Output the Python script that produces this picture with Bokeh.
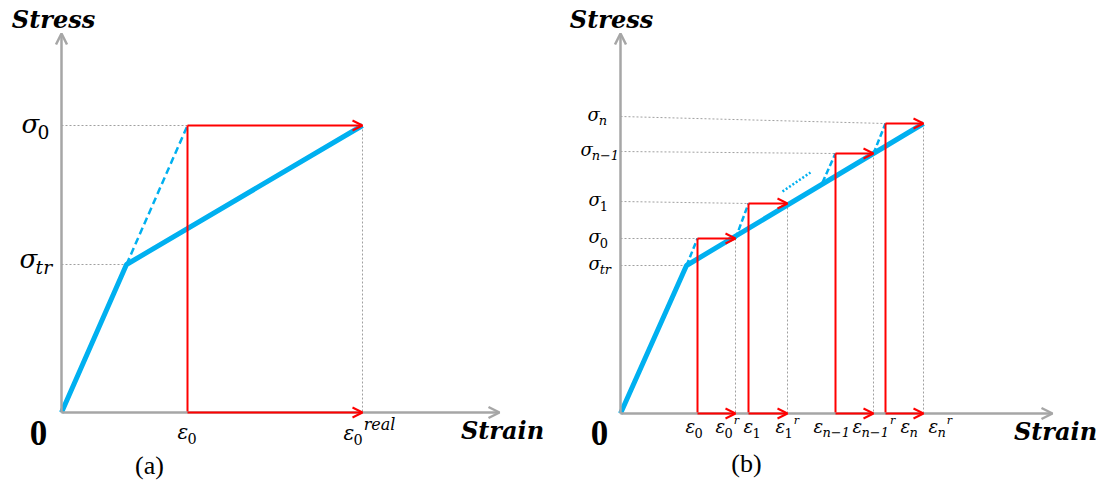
from bokeh.plotting import figure
from bokeh.layouts import row
from bokeh.models import Range1d, Arrow, OpenHead, Label
from bokeh.core.properties import value
from bokeh.embed import file_html
from bokeh.resources import INLINE

BLUE = "#00B0F0"
RED = "#FF0000"
GRAY = "#A6A6A6"
DOT = "#A0A0A0"
MATH = "DejaVu Serif"
BOLDF = "Liberation Serif"

# ---------------- panel (a) data (strain, stress; arbitrary units) -------------
a_axis_end = [4.38, 3.79]          # x-axis end (strain), y-axis end (stress)
a_eps_tr, a_sig_tr = 0.65, 1.48    # transition point
a_eps0, a_sig0 = 1.26, 2.87        # applied strain / stress
a_eps_real = 3.01                  # real strain

# ---------------- panel (b) data ---------------------------------------------
b_axis_end = [4.32, 3.80]
b_eps_tr, b_sig_tr = 0.66, 1.48
b_eps = [0.77, 1.28, 2.15, 2.65]       # eps_0, eps_1, eps_n-1, eps_n
b_eps_r = [1.15, 1.67, 2.53, 3.03]     # eps_0^r ... eps_n^r
b_sig = [1.75, 2.10, 2.60, 2.90]       # sigma_0, sigma_1, sigma_n-1, sigma_n
b_unload_x = [0.66, 1.15, 2.02, 2.53]  # start of dashed reloading segments
b_unload_y = [1.48, 1.75, 2.31, 2.60]
b_gap_x = [1.62, 1.90]                 # dotted "..." segment
b_gap_y = [2.22, 2.41]
b_sig_tick = [1.48, 1.75, 2.12, 2.62, 2.97]   # where sigma labels meet the axis

W = {'σ': 0.62, 'ε': 0.50, '0': 0.64, '1': 0.64, 'n': 0.64, '−': 0.84,
     't': 0.40, 'r': 0.49, 'e': 0.59, 'a': 0.60, 'l': 0.32}

SHIFT = 0.37   # compensation of the baseline placement, in em


def tw(s, size):
    return sum(W.get(c, 0.6) for c in s) * size


def make_fig(xr, yr):
    p = figure(width=555, height=480, x_range=Range1d(*xr), y_range=Range1d(*yr),
               output_backend="svg", toolbar_location=None,
               x_axis_location=None, y_axis_location=None, min_border=0)
    p.xgrid.visible = False
    p.ygrid.visible = False
    p.outline_line_color = None
    return p


def arrow(p, x0, y0, x1, y1, color, width, size):
    p.add_layout(Arrow(end=OpenHead(line_color=color, line_width=width, size=size),
                       x_start=x0, y_start=y0, x_end=x1, y_end=y1,
                       line_color=color, line_width=width))


def txt(p, x, y, s, size, dx=0, dy=0, font=MATH, style="italic", align="left"):
    p.text(x=[x], y=[y], text=[s], x_offset=dx, y_offset=dy - SHIFT * size,
           text_font=value(font), text_font_style=style,
           text_font_size=f"{size}px", text_baseline="alphabetic",
           text_align=align, text_color="black")


def math_label(p, x, y, base, sub="", sup="", size=20, dx=0, dy=0, sup_scale=0.62):
    txt(p, x, y, base, size, dx, dy)
    cx = dx + tw(base, size)
    if sub:
        ss = size * 0.72
        style = "normal" if sub.isdigit() else "italic"
        txt(p, x, y, sub, ss, cx, dy + 0.22 * size, style=style)
        cx += tw(sub, ss)
    if sup:
        us = size * sup_scale
        txt(p, x, y, sup, us, cx + 1, dy - 0.5 * size)


def axes(p, end):
    arrow(p, 0, 0, end[0], 0, GRAY, 2.5, 11)
    arrow(p, 0, 0, 0, end[1], GRAY, 2.5, 11)


# ============================ panel (a) =======================================
pa = make_fig((-0.61, 4.94), (-0.68, 4.12))
axes(pa, a_axis_end)
# dotted guides
pa.segment(x0=[0, 0, a_eps_real], y0=[a_sig0, a_sig_tr, a_sig0],
           x1=[a_eps0, a_eps_tr, a_eps_real], y1=[a_sig0, a_sig_tr, 0],
           line_color=DOT, line_width=1, line_dash="2 2")
# blue curve
pa.line([0, a_eps_tr, a_eps_real], [0, a_sig_tr, a_sig0], line_color=BLUE, line_width=5)
pa.segment(x0=[a_eps_tr], y0=[a_sig_tr], x1=[a_eps0], y1=[a_sig0],
           line_color=BLUE, line_width=2.5, line_dash="7 4")
# red path
pa.segment(x0=[a_eps0], y0=[0], x1=[a_eps0], y1=[a_sig0], line_color=RED, line_width=2)
arrow(pa, a_eps0, a_sig0, a_eps_real, a_sig0, RED, 2, 10)
arrow(pa, a_eps0, 0, a_eps_real, 0, RED, 2, 10)
# labels
math_label(pa, 0, a_sig0, "σ", "0", size=26, dx=-40, dy=8)
math_label(pa, 0, a_sig_tr, "σ", "tr", size=26, dx=-42, dy=4)
math_label(pa, a_eps0, 0, "ε", "0", size=20, dx=-10, dy=27)
math_label(pa, a_eps_real, 0, "ε", "0", "real", size=20, dx=-19, dy=28, sup_scale=0.8)
txt(pa, 0, 0, "0", 35, dx=-23, dy=33, font=BOLDF, style="bold", align="center")
txt(pa, 0, a_axis_end[1], "Stress", 24, dx=-8, dy=-5, style="bold italic", align="center")
txt(pa, a_axis_end[0], 0, "Strain", 24, dx=3, dy=27, style="bold italic", align="center")
pa.add_layout(Label(x=149, y=15, x_units="screen", y_units="screen", text="(a)",
                    text_font=BOLDF, text_font_size="26px", text_align="center",
                    text_baseline="alphabetic", text_color="black"))

# ============================ panel (b) =======================================
pb = make_fig((-0.65, 4.90), (-0.67, 4.13))
axes(pb, b_axis_end)
# dotted guides: horizontal (from axis tick to step start) and vertical
hx1 = [b_eps_tr] + b_eps
hy1 = [b_sig_tr] + b_sig
pb.segment(x0=[0] * 5, y0=b_sig_tick, x1=hx1, y1=hy1,
           line_color=DOT, line_width=1, line_dash="2 2")
pb.segment(x0=b_eps_r, y0=b_sig, x1=b_eps_r, y1=[0] * 4,
           line_color=DOT, line_width=1, line_dash="2 2")
# blue curve
pb.line([0, b_eps_tr, b_eps_r[-1]], [0, b_sig_tr, b_sig[-1]], line_color=BLUE, line_width=5)
pb.segment(x0=b_unload_x, y0=b_unload_y, x1=b_eps, y1=b_sig,
           line_color=BLUE, line_width=2.5, line_dash="6 3")
pb.line(b_gap_x, b_gap_y, line_color=BLUE, line_width=2.5, line_dash="2 2")
# red steps
pb.segment(x0=b_eps, y0=[0] * 4, x1=b_eps, y1=b_sig, line_color=RED, line_width=2)
for e0, e1, s in zip(b_eps, b_eps_r, b_sig):
    arrow(pb, e0, s, e1, s, RED, 2, 10)
    arrow(pb, e0, 0, e1, 0, RED, 2, 10)
# sigma labels
sig_subs = ["tr", "0", "1", "n−1", "n"]
sig_dx = [-32, -32, -32, -40, -33]
for yv, sub, dx in zip(b_sig_tick, sig_subs, sig_dx):
    math_label(pb, 0, yv, "σ", sub, size=18, dx=dx, dy=5)
# epsilon labels
eps_x = [b_eps[0], b_eps_r[0], b_eps[1], b_eps_r[1], b_eps[2], b_eps_r[2], b_eps[3], b_eps_r[3]]
eps_sub = ["0", "0", "1", "1", "n−1", "n−1", "n", "n"]
eps_sup = ["", "r", "", "r", "", "r", "", "r"]
eps_dx = [-12, -20, -5, -12, -22, -21, 15, 5]
for xv, sub, sup, dx in zip(eps_x, eps_sub, eps_sup, eps_dx):
    math_label(pb, xv, 0, "ε", sub, sup, size=18, dx=dx, dy=20)
txt(pb, 0, 0, "0", 35, dx=-21, dy=32, font=BOLDF, style="bold", align="center")
txt(pb, 0, b_axis_end[1], "Stress", 24, dx=-9, dy=-5, style="bold italic", align="center")
txt(pb, b_axis_end[0], 0, "Strain", 24, dx=3, dy=27, style="bold italic", align="center")
pb.add_layout(Label(x=191, y=17, x_units="screen", y_units="screen", text="(b)",
                    text_font=BOLDF, text_font_size="26px", text_align="center",
                    text_baseline="alphabetic", text_color="black"))

layout = row(pa, pb)
open("out.html", "w").write(file_html(layout, INLINE))
